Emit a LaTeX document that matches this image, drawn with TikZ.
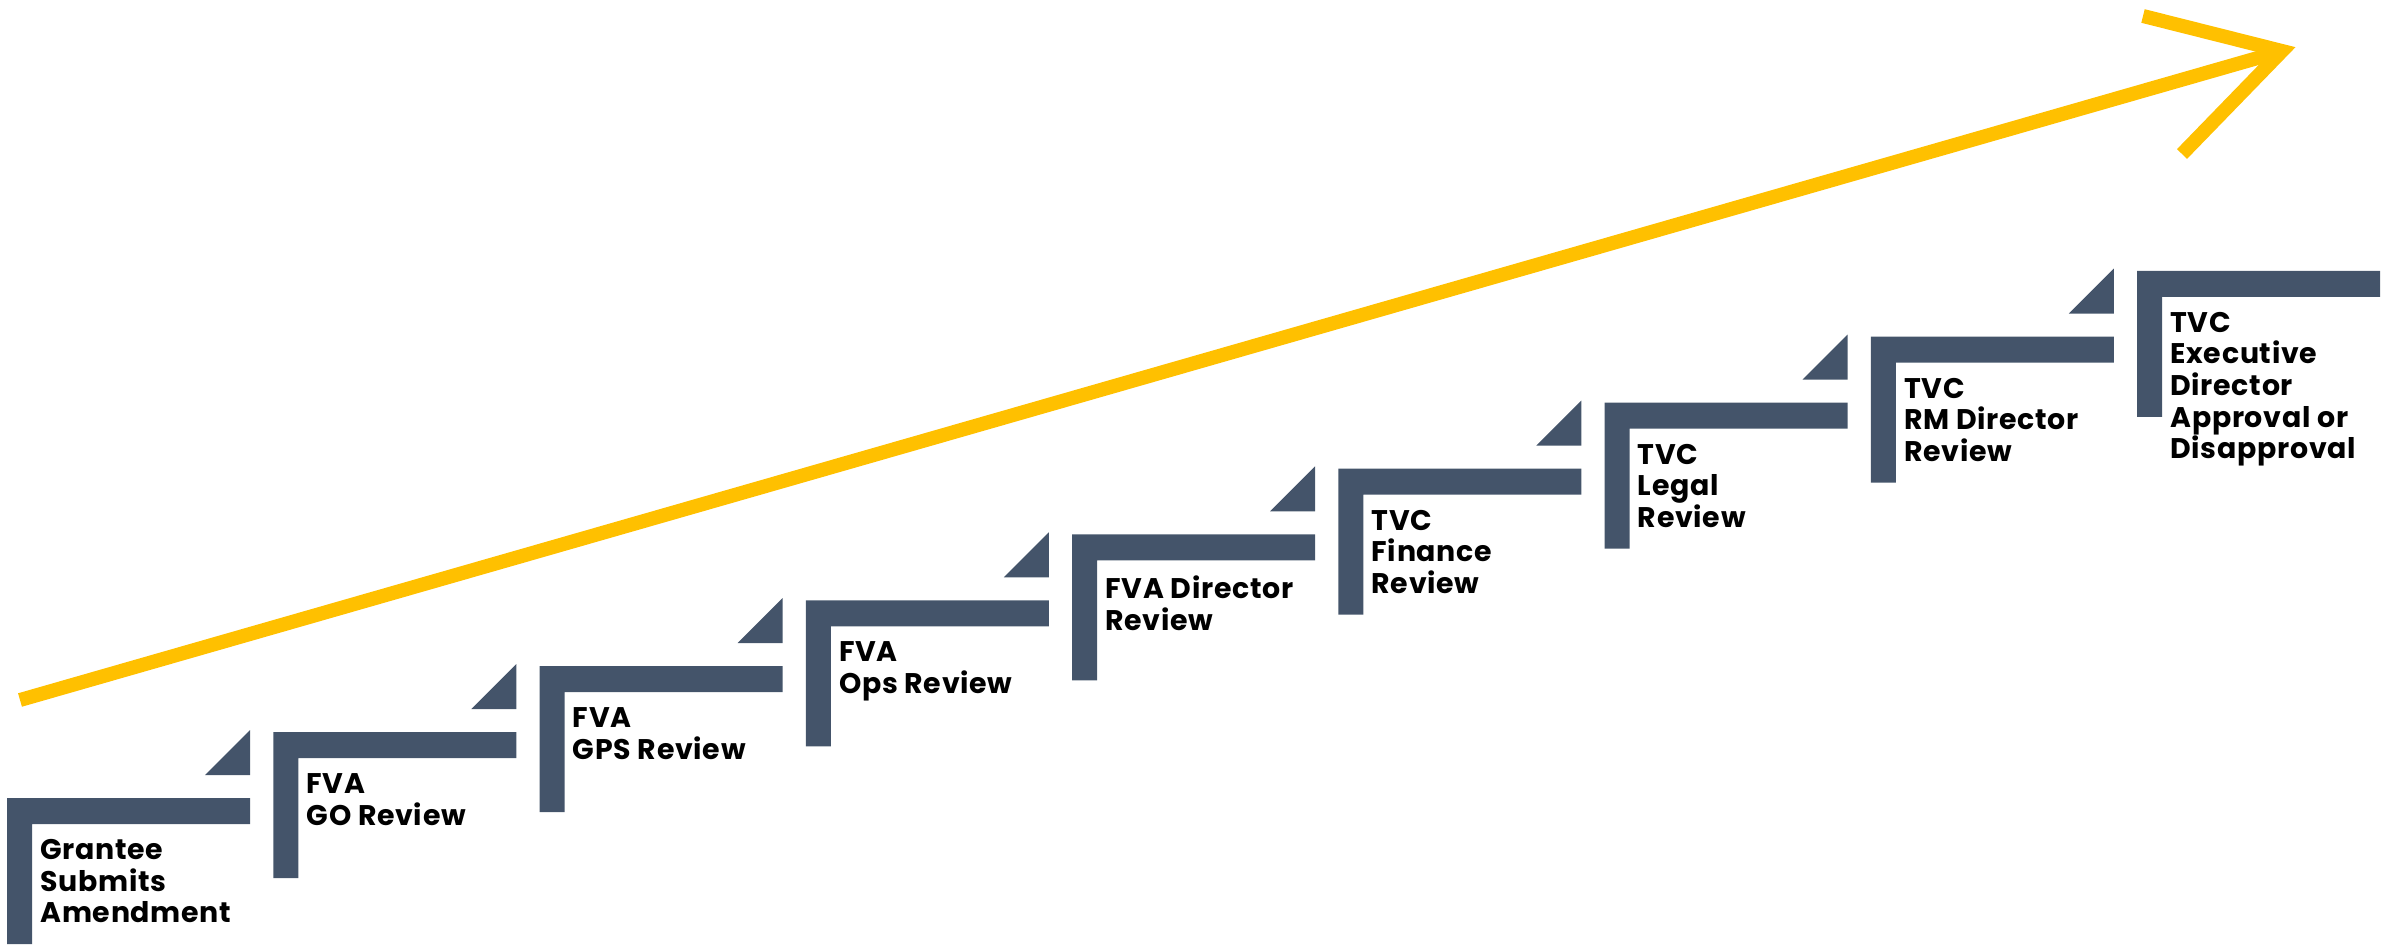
\documentclass[tikz,border=0pt]{standalone}
\usepackage{fontspec}
\setmainfont{Poppins}[LetterSpace=2.5]
\usetikzlibrary{positioning}
\definecolor{slate}{HTML}{44546A}
\definecolor{amber}{HTML}{FFC000}

\begin{document}
\begin{tikzpicture}[
    x=0.5pt, y=-0.5pt,
    bar/.style={fill=slate},
    steptext/.style={anchor=north west, inner sep=0pt, align=left, font=\fontsize{14.2}{15.8}\selectfont\bfseries},
    growth/.style={draw=amber, line width=7pt}
]
\useasboundingbox (0,0) rectangle (2392,947);

\foreach \k/\txt in {
    0/{Grantee\\Submits\\Amendment},
    1/{FVA\\GO Review},
    2/{FVA\\GPS Review},
    3/{FVA\\Ops Review},
    4/{FVA Director\\Review},
    5/{TVC\\Finance\\Review},
    6/{TVC\\Legal\\Review},
    7/{TVC\\RM Director\\Review},
    8/{TVC\\Executive\\Director\\Approval or\\Disapproval}}{
  \coordinate (c\k) at (7+266.25*\k, 798-65.9*\k);
  \fill[bar] (c\k) ++(0,146) -- ++(0,-146) -- ++(243,0) -- ++(0,26) -- ++(-218,0) -- ++(0,120) -- cycle;
  \node[steptext] (step\k) at ([xshift=16.5pt, yshift=-20.5pt]c\k) {\txt};
}
\foreach \k in {0,...,7}
  \fill[bar] (c\k) ++(243,-23) -- ++(-45,0) -- ++(45,-45) -- cycle;

\coordinate (start) at (20,700);
\coordinate (tip) at (2282,51);
\coordinate (upper) at (2143,16);
\coordinate (lower) at (2182,154);
\draw[growth] (start) -- (tip);
\draw[growth] (upper) -- (tip) -- (lower);

\end{tikzpicture}
\end{document}
